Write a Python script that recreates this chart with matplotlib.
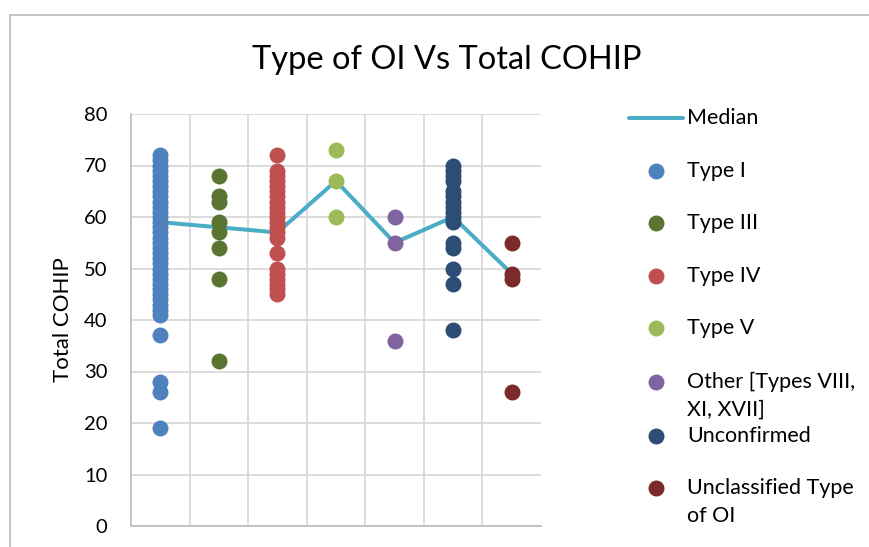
import matplotlib
matplotlib.use("Agg")
import matplotlib.pyplot as plt
from matplotlib.lines import Line2D
from matplotlib.patches import Rectangle

plt.rcParams['font.family'] = ['Lato', 'DejaVu Sans']

categories = ["Type I", "Type III", "Type IV", "Type V",
              "Other [Types VIII,\nXI, XVII]", "Unconfirmed", "Unclassified Type\nof OI"]
colors = ["#4F81BD", "#5A7532", "#C0504D", "#9BBB59", "#8064A2", "#2C4D75", "#7A2B2A"]

type_i = list(range(41, 73)) + [37, 28, 26, 19]
type_iii = [68, 64, 63, 59, 57, 54, 48, 32]
type_iv = [72, 69, 68, 67, 66, 65, 64, 63, 62, 61, 60, 59, 58, 57, 56,
           53, 50, 49, 48, 47, 46, 45]
type_v = [73, 67, 60]
other = [60, 55, 36]
unconfirmed = [70, 69, 68, 67, 65, 64, 63, 62, 61, 60, 59, 55, 54, 50, 47, 38]
unclassified = [55, 49, 48, 26]
series = [type_i, type_iii, type_iv, type_v, other, unconfirmed, unclassified]

median = [59, 58, 57, 67, 55, 60, 49]
yticks = [0, 10, 20, 30, 40, 50, 60, 70, 80]

W, H = 869, 547
fig = plt.figure(figsize=(W / 100, H / 100), dpi=100)
ax = fig.add_axes([131 / W, (H - 526) / H, (541 - 131) / W, (526 - 114) / H])

xs = list(range(1, len(categories) + 1))
ax.plot(xs, median, color="#4BACC6", lw=2.9, zorder=2, solid_capstyle='round')
for i, (vals, c) in enumerate(zip(series, colors)):
    ax.plot([xs[i]] * len(vals), vals, 'o', ms=11.5, color=c, mec=c, mew=0, zorder=3, clip_on=False)

ax.set_xlim(0.5, len(categories) + 0.5)
ax.set_ylim(0, 80)
ax.set_yticks(yticks)
ax.set_xticks([x + 0.5 for x in xs[:-1]])
ax.tick_params(axis='x', length=0, labelbottom=False)
ax.tick_params(axis='y', length=0, pad=17, labelsize=14.5)
ax.grid(True, color="#D9D9D9", lw=1.3, zorder=0)
ax.set_axisbelow(True)
for s in ['top', 'right']:
    ax.spines[s].set_visible(False)
for s in ['left', 'bottom']:
    ax.spines[s].set_color("#BFBFBF")
    ax.spines[s].set_linewidth(1.3)
ax.set_ylabel("Total COHIP", fontsize=16, labelpad=8)

fig.text(447 / W, 1 - 60 / H, "Type of OI Vs Total COHIP", ha='center', va='center', fontsize=23.5)

# chart border
fig.add_artist(Rectangle((10 / W, -0.1), 1.2, 1 - 15 / H + 0.1, transform=fig.transFigure,
                         fill=False, ec="#BFBFBF", lw=1.3))

# legend
fig.add_artist(Line2D([629 / W, 683 / W], [1 - 117.5 / H] * 2, transform=fig.transFigure,
                      color="#4BACC6", lw=2.9, solid_capstyle='round'))
fig.text(687 / W, 1 - 117.5 / H, "Median", ha='left', va='center', fontsize=15.5)
leg_y = [171, 223, 276, 328, 382, 436, 488]
for y, lab, c in zip(leg_y, categories, colors):
    fig.add_artist(Line2D([656 / W], [1 - y / H], transform=fig.transFigure, marker='o',
                          ms=11.5, color=c, mew=0, linestyle='none'))
    lines = lab.split("\n")
    for j, ln in enumerate(lines):
        fig.text(687 / W, 1 - (y + j * 28) / H, ln, ha='left', va='center', fontsize=15.5)

fig.savefig("out.png", dpi=100)
